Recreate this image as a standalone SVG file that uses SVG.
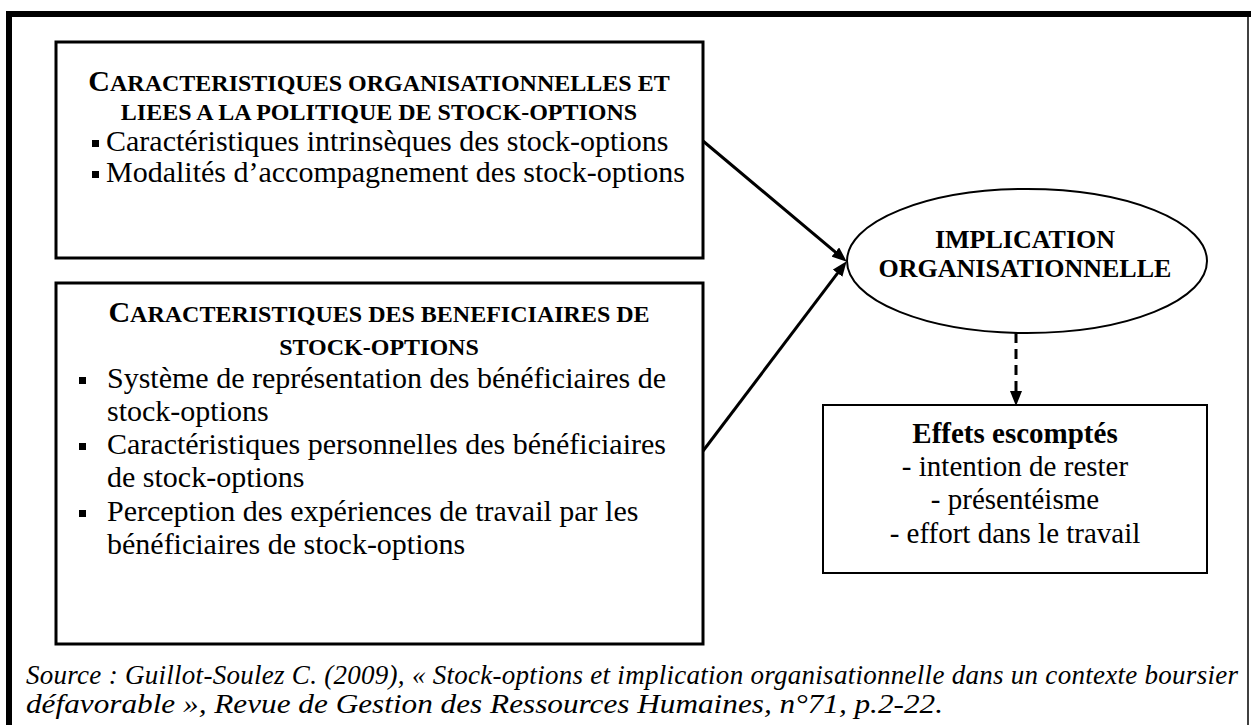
<svg xmlns="http://www.w3.org/2000/svg" width="1251" height="725" viewBox="0 0 1251 725">
<style>
text{font-family:"Liberation Serif",Tinos,"Times New Roman",Times,serif;fill:#000}
.t{font-size:30px}
.b{font-weight:bold}
.sc{font-size:24px}
.c{text-anchor:middle}
.box{fill:#fff;stroke:#000;stroke-width:3}
.thin{fill:#fff;stroke:#000;stroke-width:2}
.conn{fill:none;stroke:#000;stroke-width:3}
.src{font-size:27px;font-style:italic}
</style>
<defs>
<marker id="ah" markerUnits="userSpaceOnUse" markerWidth="16" markerHeight="12" refX="6" refY="6" orient="auto">
<path d="M0,0 L15,6 L0,12 z" fill="#000"/>
</marker>
</defs>
<rect width="1251" height="725" fill="#fff"/>
<g id="frame">
<path d="M9,725 V14 H1251" fill="none" stroke="#000" stroke-width="6"/>
<line x1="1248" y1="14" x2="1248" y2="725" stroke="#000" stroke-width="1.5"/>
</g>
<g id="node-orga">
<rect class="box" x="56" y="42" width="647" height="216"/>
<text class="t b c" x="379" y="91">C<tspan class="sc">ARACTERISTIQUES ORGANISATIONNELLES ET</tspan></text>
<text class="sc b c" x="379" y="120">LIEES A LA POLITIQUE DE STOCK-OPTIONS</text>
<rect x="92" y="140" width="7" height="7"/>
<text class="t" x="106" y="151">Caractéristiques intrinsèques des stock-options</text>
<rect x="92" y="171" width="7" height="7"/>
<text class="t" x="106" y="182">Modalités d’accompagnement des stock-options</text>
</g>
<g id="node-benef">
<rect class="box" x="56" y="283" width="647" height="361"/>
<text class="t b c" x="379" y="322">C<tspan class="sc">ARACTERISTIQUES DES BENEFICIAIRES DE</tspan></text>
<text class="sc b c" x="379" y="355">STOCK-OPTIONS</text>
<rect x="79" y="377" width="7" height="7"/>
<text class="t" x="107" y="388">Système de représentation des bénéficiaires de</text>
<text class="t" x="107" y="421">stock-options</text>
<rect x="79" y="443" width="7" height="7"/>
<text class="t" x="107" y="454">Caractéristiques personnelles des bénéficiaires</text>
<text class="t" x="107" y="487">de stock-options</text>
<rect x="79" y="510" width="7" height="7"/>
<text class="t" x="107" y="521">Perception des expériences de travail par les</text>
<text class="t" x="107" y="554">bénéficiaires de stock-options</text>
</g>
<g id="node-implication">
<ellipse class="thin" cx="1027" cy="261" rx="180" ry="72"/>
<text class="b c" style="font-size:26px" x="1025" y="248">IMPLICATION</text>
<text class="b c" style="font-size:26px" x="1025" y="277">ORGANISATIONNELLE</text>
</g>
<g id="node-effets">
<rect class="thin" x="823" y="405" width="384" height="168"/>
<text class="b c" style="font-size:29px" x="1015" y="443">Effets escomptés</text>
<text class="c" style="font-size:29px" x="1015" y="476">- intention de rester</text>
<text class="c" style="font-size:29px" x="1015" y="509">- présentéisme</text>
<text class="c" style="font-size:29px" x="1015" y="543">- effort dans le travail</text>
</g>
<g id="connectors">
<line class="conn" x1="703" y1="141" x2="839.9" y2="255.9" marker-end="url(#ah)"/>
<line class="conn" x1="703" y1="451" x2="841.2" y2="268.4" marker-end="url(#ah)"/>
<line class="conn" x1="1016" y1="333" x2="1016" y2="397" stroke-dasharray="10,6" marker-end="url(#ah)"/>
</g>
<g id="source">
<text class="src" x="26" y="684" textLength="1212" lengthAdjust="spacing">Source : Guillot-Soulez C. (2009), « Stock-options et implication organisationnelle dans un contexte boursier</text>
<text class="src" x="26" y="713" textLength="917" lengthAdjust="spacingAndGlyphs">défavorable », Revue de Gestion des Ressources Humaines, n°71, p.2-22.</text>
</g>
</svg>
